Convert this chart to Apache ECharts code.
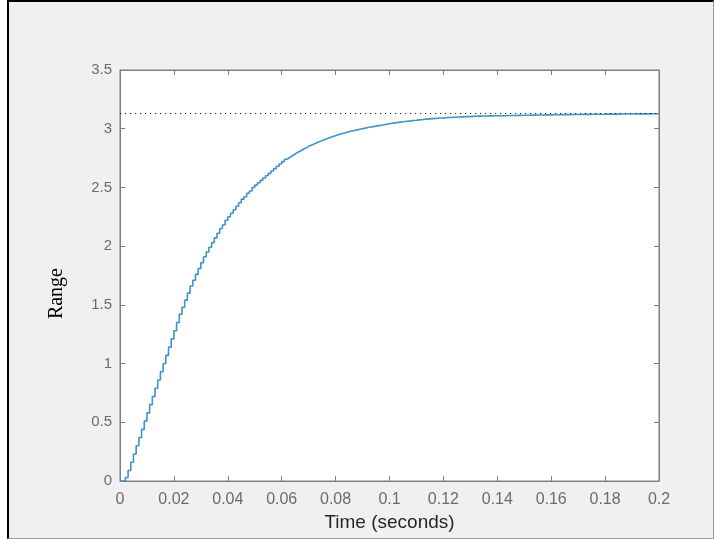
<!DOCTYPE html>
<html>
<head>
<meta charset="utf-8">
<script src="https://cdn.jsdelivr.net/npm/echarts@6/dist/echarts.min.js"></script>
</head>
<body style="margin:0; background:#ffffff">
<div id="frame" style="position:absolute; left:7px; top:0; width:704px; height:536px; background:#f0f0f0; border-left:2px solid #000; border-top:2px solid #000; border-right:1px solid #9a9a9a; border-bottom:1px solid #9a9a9a;"></div>
<div id="container" style="position:absolute; left:0; top:0; width:715px; height:539px"></div>
<script type="text/javascript">
    var dom = document.getElementById("container");
    var myChart = echarts.init(dom);

    // sampled step response, one value per sample
    var sampleTime = 0.001;
    var response = [
        0, 0.00, 0.03, 0.09, 0.16, 0.23, 0.30, 0.37, 0.44, 0.51,
        0.58, 0.65, 0.72, 0.79, 0.86, 0.93, 1.00, 1.07, 1.14, 1.21,
        1.28, 1.35, 1.42, 1.48, 1.54, 1.60, 1.66, 1.71, 1.76, 1.81,
        1.86, 1.91, 1.95, 1.99, 2.03, 2.07, 2.11, 2.15, 2.18, 2.22,
        2.25, 2.28, 2.31, 2.34, 2.37, 2.40, 2.42, 2.45, 2.47, 2.50,
        2.52, 2.54, 2.56, 2.58, 2.60, 2.62, 2.64, 2.66, 2.68, 2.70,
        2.72, 2.74, 2.755, 2.77, 2.785, 2.80, 2.81, 2.825, 2.835, 2.85,
        2.86, 2.87, 2.88, 2.89, 2.899, 2.908, 2.917, 2.925, 2.933, 2.941,
        2.948, 2.955, 2.962, 2.968, 2.974, 2.98, 2.985, 2.99, 2.995, 3.00,
        3.005, 3.01, 3.014, 3.018, 3.022, 3.026, 3.03, 3.034, 3.038, 3.042,
        3.046, 3.05, 3.053, 3.056, 3.059, 3.062, 3.065, 3.067, 3.07, 3.072,
        3.075, 3.077, 3.08, 3.082, 3.084, 3.086, 3.087, 3.089, 3.091, 3.092,
        3.094, 3.095, 3.096, 3.097, 3.098, 3.10, 3.101, 3.102, 3.103, 3.104,
        3.105, 3.106, 3.107, 3.107, 3.108, 3.108, 3.109, 3.109, 3.11, 3.11,
        3.11, 3.111, 3.111, 3.112, 3.112, 3.113, 3.113, 3.114, 3.114, 3.115,
        3.115, 3.115, 3.116, 3.116, 3.117, 3.117, 3.117, 3.118, 3.118, 3.118,
        3.119, 3.119, 3.119, 3.12, 3.12, 3.12, 3.12, 3.121, 3.121, 3.121,
        3.121, 3.122, 3.122, 3.122, 3.122, 3.123, 3.123, 3.123, 3.123, 3.123,
        3.124, 3.124, 3.124, 3.124, 3.124, 3.125, 3.125, 3.125, 3.125, 3.125,
        3.125, 3.126, 3.126, 3.126, 3.126, 3.126, 3.126, 3.127, 3.127, 3.127,
        3.127
    ];
    var finalValue = 3.13;
    var xTicks = [0, 0.2, 0.02];   // min, max, interval
    var yTicks = [0, 3.5, 0.5];

    var points = [];
    for (let i = 0; i < response.length; i++) {
        points.push([+(i * sampleTime).toFixed(3), response[i]]);
    }

    var axisGrey = '#7f7f7f';
    var labelFont = 'Liberation Sans, Arial';

    // box axis: line not pinned to zero, ticks pointing into the plot
    function boxAxis(extra) {
        return Object.assign({
            type: 'value',
            axisLine: { show: true, onZero: false, lineStyle: { color: axisGrey } },
            axisTick: { show: true, inside: true, length: 5, lineStyle: { color: axisGrey } },
            splitLine: { show: false }
        }, extra);
    }

    var option = {
        backgroundColor: 'transparent',
        animation: false,
        grid: {
            left: 120,
            right: 56,
            top: 70,
            bottom: 58,
            show: true,
            backgroundColor: '#ffffff',
            borderColor: axisGrey,
            borderWidth: 1
        },
        xAxis: [
            boxAxis({
                min: xTicks[0], max: xTicks[1], interval: xTicks[2],
                name: 'Time (seconds)',
                nameLocation: 'middle',
                nameGap: 31,
                nameTextStyle: { color: '#262626', fontFamily: labelFont, fontSize: 19 },
                axisLabel: { margin: 11, color: '#6b6b6b', fontFamily: labelFont, fontSize: 16 }
            }),
            boxAxis({
                position: 'top',
                min: xTicks[0], max: xTicks[1], interval: xTicks[2],
                axisLabel: { show: false }
            })
        ],
        yAxis: [
            boxAxis({
                min: yTicks[0], max: yTicks[1], interval: yTicks[2],
                axisLabel: { margin: 8, color: '#6b6b6b', fontFamily: labelFont, fontSize: 15 }
            }),
            boxAxis({
                position: 'right',
                min: yTicks[0], max: yTicks[1], interval: yTicks[2],
                axisLabel: { show: false }
            })
        ],
        graphic: [{
            type: 'text',
            left: 47,
            top: 268,
            rotation: Math.PI / 2,
            style: {
                text: 'Range',
                fill: '#000',
                font: '20px "Liberation Serif", "Times New Roman", serif'
            }
        }],
        series: [{
            type: 'line',
            step: 'end',
            showSymbol: false,
            data: points,
            lineStyle: { color: '#3f93c6', width: 1.6 },
            markLine: {
                silent: true,
                symbol: 'none',
                label: { show: false },
                lineStyle: { color: '#222', type: [1.2, 3.8], width: 1.2 },
                data: [[
                    { coord: [xTicks[0], finalValue] },
                    { coord: [xTicks[1], finalValue] }
                ]]
            }
        }, {
            // keeps the top and right box axes drawn
            type: 'line',
            xAxisIndex: 1,
            yAxisIndex: 1,
            data: [],
            silent: true
        }]
    };

    myChart.setOption(option, true);
</script>
</body>
</html>
